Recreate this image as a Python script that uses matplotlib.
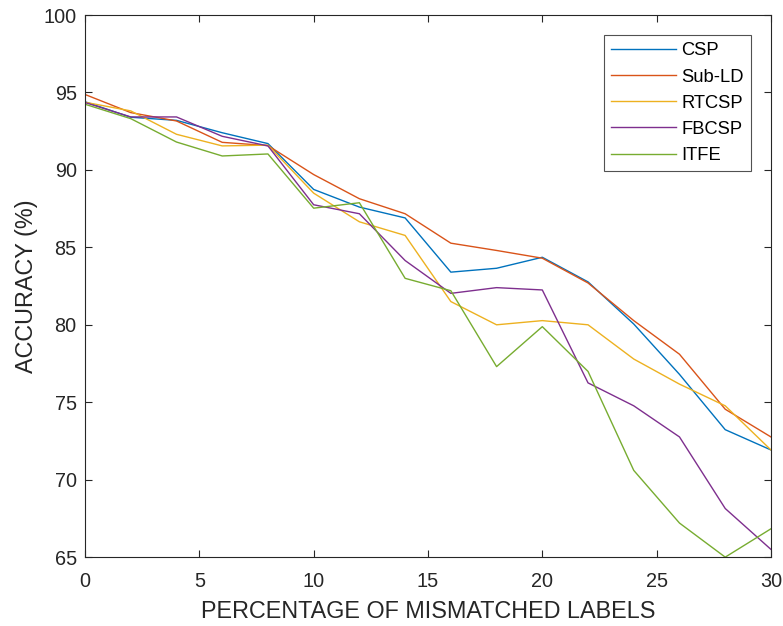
import matplotlib
matplotlib.use("Agg")
import matplotlib.pyplot as plt

plt.rcParams['font.family'] = ['Liberation Sans', 'DejaVu Sans']

##
## values
##
mismatch = [0, 2, 4, 6, 8, 10, 12, 14, 16, 18, 20, 22, 24, 26, 28, 30]

csp    = [94.4, 93.4, 93.2, 92.4, 91.7, 88.74, 87.6, 86.9, 83.4, 83.65, 84.36, 82.77, 80.05, 76.8, 73.23, 71.92]
sub_ld = [94.87, 93.7, 93.16, 91.78, 91.57, 89.7, 88.14, 87.17, 85.27, 84.8, 84.3, 82.7, 80.27, 78.1, 74.55, 72.76]
rtcsp  = [94.37, 93.81, 92.3, 91.55, 91.6, 88.5, 86.65, 85.77, 81.5, 80.0, 80.27, 80.0, 77.79, 76.17, 74.77, 71.92]
fbcsp  = [94.35, 93.42, 93.42, 92.17, 91.55, 87.75, 87.17, 84.15, 82.03, 82.4, 82.25, 76.25, 74.77, 72.76, 68.14, 65.5]
itfe   = [94.24, 93.31, 91.8, 90.9, 91.03, 87.53, 87.88, 83.0, 82.2, 77.3, 79.88, 76.99, 70.6, 67.2, 65.0, 66.83]

series = [("CSP", csp), ("Sub-LD", sub_ld), ("RTCSP", rtcsp), ("FBCSP", fbcsp), ("ITFE", itfe)]
colors = ['#0072BD', '#D95319', '#EDB120', '#7E2F8E', '#77AC30']

fig = plt.figure(figsize=(7.83, 6.26), dpi=100)
ax = fig.add_axes([0.1086, 0.110, 0.876, 0.866])

for (name, vals), c in zip(series, colors):
  ax.plot(mismatch, vals, color=c, linewidth=1.0, label=name)

ax.set_xlim(0, 30)
ax.set_ylim(65, 100)
ax.set_xticks(range(0, 31, 5))
ax.set_yticks(range(65, 101, 5))

axcol = '#262626'
for s in ax.spines.values():
  s.set_color(axcol)
  s.set_linewidth(0.8)
ax.tick_params(direction='in', top=True, right=True, length=5, width=0.8,
               colors=axcol, labelsize=14.3, labelcolor=axcol)
ax.tick_params(axis='x', pad=11)
ax.tick_params(axis='y', pad=6)

ax.set_xlabel('PERCENTAGE OF MISMATCHED LABELS', fontsize=16.8, color=axcol, labelpad=6)
ax.set_ylabel('ACCURACY (%)', fontsize=16.8, color=axcol, labelpad=4)

leg = ax.legend(loc='upper right', bbox_to_anchor=(1 - 20/686., 1 - 20/541.), borderaxespad=0,
                fontsize=13.2, frameon=True, fancybox=False, handlelength=3.5, borderpad=0.4,
                labelspacing=0.5, handletextpad=0.3)
leg.get_frame().set_edgecolor(axcol)
leg.get_frame().set_linewidth(0.8)

plt.savefig('out.png', dpi=100)
